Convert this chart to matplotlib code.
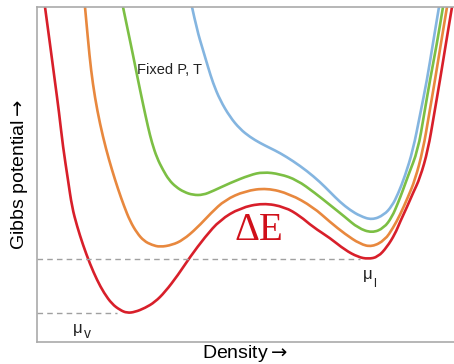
import matplotlib
matplotlib.use("Agg")
import matplotlib.pyplot as plt
from matplotlib.path import Path
from matplotlib.patches import PathPatch

# ---- data (arbitrary units) ----
red_x = [8, 13, 18, 22, 26, 31, 35, 40, 46, 53, 60, 67, 75, 83, 90, 98, 108, 118, 128, 141, 153,
         168, 183, 203, 226, 248, 263, 276, 293, 308, 321, 331, 341, 350, 358, 363, 370, 376,
         383, 391, 397, 403, 409, 415]
red_y = [335, 298, 260, 230, 195, 162, 135, 116, 97, 78, 62, 49, 38, 32, 29, 30, 34, 40, 50, 67, 85,
         105, 122, 134, 139, 135, 126, 115, 104, 92, 85, 83, 85, 95, 108, 120, 135, 149,
         164, 192, 227, 262, 299, 335]

orange_x = [48, 51, 54, 58, 63, 69, 75, 81, 87, 93, 100, 107, 115, 123, 135, 146, 160, 174, 188,
            208, 230, 253, 276, 293, 308, 323, 335, 348, 356, 363, 371, 378, 386, 392, 398, 404, 410]
orange_y = [335, 302, 272, 244, 218, 193, 172, 153, 136, 121, 109, 101, 97, 95, 97, 102, 114, 129,
            142, 151, 154, 148, 135, 120, 108, 98, 95, 102, 114, 127, 145, 162, 192, 227, 262, 299, 335]

green_x = [86, 91, 96, 101, 106, 111, 115, 120, 126, 132, 139, 147, 156, 166, 176, 193, 213, 226,
           243, 260, 278, 293, 308, 321, 335, 347, 355, 361, 366, 371, 381, 387, 393, 400, 406]
green_y = [335, 311, 287, 262, 238, 215, 199, 184, 172, 162, 155, 150, 147, 147, 151, 159, 167, 170,
           168, 162, 149, 137, 125, 114, 109, 114, 125, 139, 152, 166, 192, 227, 262, 299, 335]

blue_x = [155, 160, 166, 171, 176, 183, 193, 203, 213, 223, 233, 243, 256, 270, 283, 293, 303, 313,
          323, 335, 347, 355, 361, 368, 376, 383, 390, 396, 402]
blue_y = [335, 312, 292, 275, 259, 242, 225, 213, 205, 199, 194, 189, 181, 171, 160, 150, 140, 132,
          126, 122, 127, 136, 148, 166, 192, 227, 262, 299, 335]

mu_l_level = 83
mu_v_level = 29
mu_l_end = 323
mu_v_end = 80


def smooth_path(xs, ys):
    """Quadratic-Bezier path using the read points as control points."""
    pts = list(zip(xs, ys))
    verts = [pts[0]]
    codes = [Path.MOVETO]
    for i in range(1, len(pts) - 1):
        mid = ((pts[i][0] + pts[i + 1][0]) / 2, (pts[i][1] + pts[i + 1][1]) / 2)
        verts += [pts[i], mid]
        codes += [Path.CURVE3, Path.CURVE3]
    verts.append(pts[-1])
    codes.append(Path.LINETO)
    return Path(verts, codes)


# ---- figure ----
W, H = 454, 364
fig = plt.figure(figsize=(W / 100, H / 100), dpi=100)
ax = fig.add_axes([37 / W, 22 / H, 417 / W, 335 / H])
ax.set_xlim(0, 417)
ax.set_ylim(0, 335)

lw = 1.9
for xs, ys, c in [(blue_x, blue_y, "#84b5e0"), (green_x, green_y, "#7cbf44"),
                  (orange_x, orange_y, "#e8883e"), (red_x, red_y, "#d81f2a")]:
    ax.add_patch(PathPatch(smooth_path(xs, ys), fill=False, edgecolor=c, lw=lw,
                           capstyle="round", joinstyle="round"))

ax.plot([0, mu_l_end], [mu_l_level, mu_l_level], color="#a0a0a0", lw=1.0, ls=(0, (4, 3)))
ax.plot([0, mu_v_end], [mu_v_level, mu_v_level], color="#a0a0a0", lw=1.0, ls=(0, (4, 3)))

for s in ["left", "bottom", "top"]:
    ax.spines[s].set_color("#aaaaaa")
    ax.spines[s].set_linewidth(1.2)
ax.spines["right"].set_visible(False)
ax.set_xticks([])
ax.set_yticks([])

fam = ["Liberation Sans", "DejaVu Sans"]
ax.set_ylabel(r"Gibbs potential$\rightarrow$", fontsize=14, family=fam, labelpad=5)
ax.set_xlabel(r"Density$\rightarrow$", fontsize=14, family=fam, labelpad=1)

ax.text(100, 272, "Fixed P, T", fontsize=10.5, family=fam, va="center", ha="left", color="#222222")
ax.text(222, 112, "ΔE", fontsize=28, family=["Liberation Serif", "DejaVu Serif"],
        color="#d0101a", ha="center", va="center")

ax.text(326, 67, "μ", fontsize=12, family=fam, ha="left", va="center", color="#222222")
ax.text(336, 58, "l", fontsize=9, family=fam, ha="left", va="center", color="#222222")
ax.text(36, 14, "μ", fontsize=12, family=fam, ha="left", va="center", color="#222222")
ax.text(46.5, 8, "v", fontsize=10, family=fam, ha="left", va="center", color="#222222")

fig.savefig("out.png", dpi=100)
